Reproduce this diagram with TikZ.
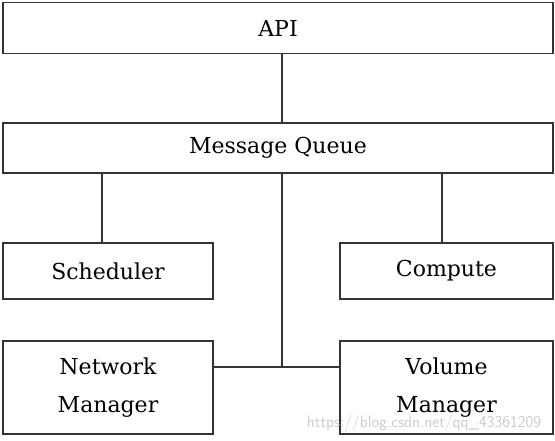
\documentclass[tikz,border=0pt]{standalone}
\usepackage{fontspec}
\setmainfont{DejaVu Serif}
\usepackage{tikz}
\usetikzlibrary{positioning,calc}

\tikzset{
  blk/.style={draw=black!80, line width=1.3pt, minimum height=#1, inner sep=0pt,
              align=center, font=\fontsize{22}{38}\selectfont},
  blk/.default=50pt,
  wire/.style={draw=black!80, line width=1.3pt}
}

\begin{document}
\begin{tikzpicture}[x=1pt,y=1pt]
        \useasboundingbox (0,0) rectangle (555,-440);

        \node[blk=51pt, minimum width=550pt] (api) at (278,-28) {API};
        \node[blk, minimum width=550pt] (mq) at (278,-148) {Message Queue};
        \node[blk=56pt, minimum width=210pt] (sched) at (108,-271) {Scheduler};
        \node[blk=56pt, minimum width=213pt] (comp) at (446.5,-271) {Compute};
        \node[blk=93pt, minimum width=210pt] (net) at (108,-387.5) {Network\\Manager};
        \node[blk=93pt, minimum width=213pt] (vol) at (446.5,-387.5) {Volume\\Manager};

        \coordinate (sl) at (102,0);
        \coordinate (cl) at (442,0);
        \coordinate (bus) at (282,-367);

        \draw[wire] (api.south -| bus) -- (mq.north -| bus);
        \draw[wire] (mq.south -| sl) -- (sched.north -| sl);
        \draw[wire] (mq.south -| cl) -- (comp.north -| cl);
        \draw[wire] (mq.south -| bus) -- (bus);
        \draw[wire] (net.east |- bus) -- (vol.west |- bus); % bus

        \node[text=black!20, font=\fontsize{16.5}{16.5}\sffamily] (mark) at (424,-423) {https://blog.csdn.net/qq\_43361209};
    \end{tikzpicture}
\end{document}
